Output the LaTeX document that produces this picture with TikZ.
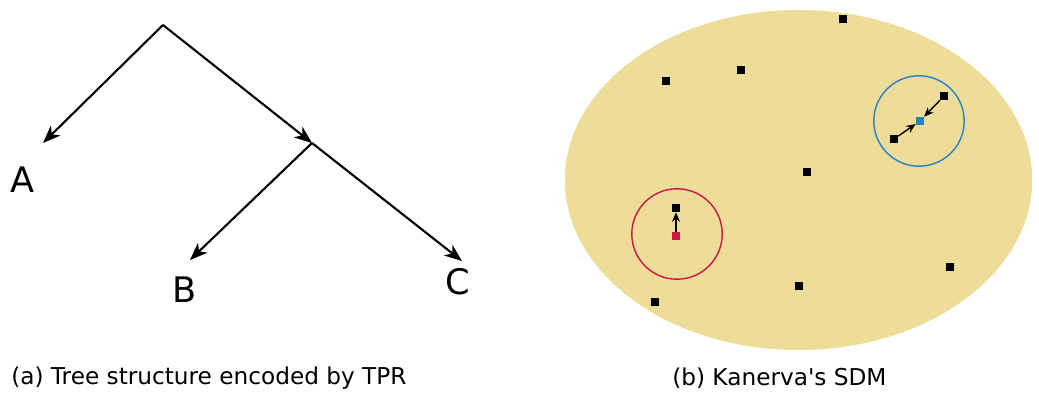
\documentclass[tikz,border=0pt]{standalone}
\usepackage{fontspec}
\setmainfont{DejaVu Sans}
\usepackage{xcolor}
\usetikzlibrary{arrows.meta, positioning}
\definecolor{sdmfill}{RGB}{238,221,152}
\definecolor{sdmblue}{RGB}{40,130,200}
\definecolor{sdmred}{RGB}{210,20,70}
\begin{document}
\begin{tikzpicture}[x=0.025cm, y=-0.025cm]
\tikzstyle{arrow} = [line width=1.5pt,-{Stealth[length=0.44cm, width=0.34cm, inset=0.13cm]}]
\tikzstyle{smallarrow} = [line width=1pt,-{Stealth[length=0.24cm, width=0.2cm, inset=0.08cm]}]
\tikzstyle{leaf} = [inner sep=0pt, font=\fontsize{25}{28}\selectfont]
\tikzstyle{caption} = [inner sep=0pt, font=\fontsize{16.5}{19}\selectfont]
\tikzstyle{loc} = [rectangle, inner sep=0pt, minimum width=0.2cm, minimum height=0.2cm, fill=black]
\useasboundingbox (0,0) rectangle (1039,398);

% (a) tree
\coordinate (root) at (163,25);
\coordinate (mid) at (312,143);
\coordinate (ta) at (43,143);
\coordinate (tb) at (190,260);
\coordinate (tc) at (462,261);
\node (A) [leaf] at (23,180) {A};
\node (B) [leaf] at (185,290) {B};
\node (C) [leaf] at (458,282) {C};
\draw [arrow] (root) -- (ta);
\draw [arrow] (root) -- (mid);
\draw [arrow] (mid) -- (tb);
\draw [arrow] (mid) -- (tc);
\node (capa) [caption, anchor=west] at (11,378) {(a) Tree structure encoded by TPR};

% (b) SDM
\fill [sdmfill] (798.5,180) ellipse [x radius=5.84cm, y radius=4.25cm];
\draw [sdmblue, line width=1pt] (919,121) circle [radius=1.13cm];
\draw [sdmred, line width=1pt] (677,234) circle [radius=1.13cm];
\node (l1) [loc] at (843,19) {};
\node (l2) [loc] at (666,81) {};
\node (l3) [loc] at (741,70) {};
\node (l4) [loc] at (807,172) {};
\node (l5) [loc] at (950,267) {};
\node (l6) [loc] at (799,286) {};
\node (l7) [loc] at (655,302) {};
\node (l8) [loc] at (944,96) {};
\node (l9) [loc] at (894,139) {};
\node (l10) [loc] at (676,208) {};
\node (qb) [loc, fill=sdmblue] at (920,121) {};
\node (qr) [loc, fill=sdmred] at (676,236) {};
\draw [smallarrow] (l8) -- (qb);
\draw [smallarrow] (l9) -- (qb);
\draw [smallarrow] (qr) -- (l10);
\node (capb) [caption, anchor=west] at (672,378) {(b) Kanerva\textquotesingle s SDM};
\end{tikzpicture}
\end{document}
